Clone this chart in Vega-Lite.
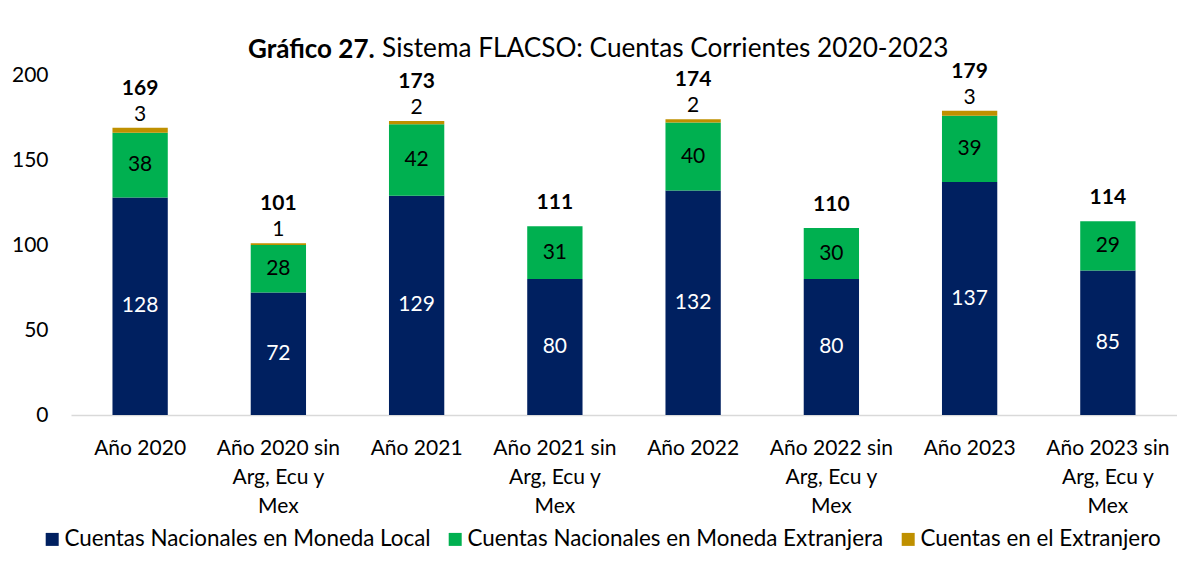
{
  "$schema": "https://vega.github.io/schema/vega-lite/v6.json",
  "width": 1106,
  "height": 340,
  "autosize": {"type": "none"},
  "padding": {"left": 71, "top": 75, "right": 0, "bottom": 157},
  "background": "white",
  "title": {
    "text": "Gráfico 27.",
    "subtitle": "\u200b\u00a0\u00a0\u00a0\u00a0\u00a0\u00a0\u00a0\u00a0\u00a0\u00a0\u00a0\u00a0\u00a0\u00a0\u00a0\u00a0\u00a0\u00a0\u00a0\u00a0Sistema FLACSO: Cuentas Corrientes 2020-2023",
    "anchor": "start",
    "frame": "group",
    "dx": 177,
    "offset": -2,
    "font": "Lato",
    "fontSize": 26,
    "fontWeight": "bold",
    "color": "black",
    "subtitleFont": "Lato",
    "subtitleFontSize": 26.2,
    "subtitleFontWeight": "normal",
    "subtitleColor": "black",
    "subtitlePadding": -26.2
  },
  "data": {
    "values": [
      {"cat": "Año 2020", "serie": "Cuentas Nacionales en Moneda Local", "value": 128},
      {"cat": "Año 2020", "serie": "Cuentas Nacionales en Moneda Extranjera", "value": 38},
      {"cat": "Año 2020", "serie": "Cuentas en el Extranjero", "value": 3},
      {"cat": "Año 2020 sin Arg, Ecu y Mex", "serie": "Cuentas Nacionales en Moneda Local", "value": 72},
      {"cat": "Año 2020 sin Arg, Ecu y Mex", "serie": "Cuentas Nacionales en Moneda Extranjera", "value": 28},
      {"cat": "Año 2020 sin Arg, Ecu y Mex", "serie": "Cuentas en el Extranjero", "value": 1},
      {"cat": "Año 2021", "serie": "Cuentas Nacionales en Moneda Local", "value": 129},
      {"cat": "Año 2021", "serie": "Cuentas Nacionales en Moneda Extranjera", "value": 42},
      {"cat": "Año 2021", "serie": "Cuentas en el Extranjero", "value": 2},
      {"cat": "Año 2021 sin Arg, Ecu y Mex", "serie": "Cuentas Nacionales en Moneda Local", "value": 80},
      {"cat": "Año 2021 sin Arg, Ecu y Mex", "serie": "Cuentas Nacionales en Moneda Extranjera", "value": 31},
      {"cat": "Año 2022", "serie": "Cuentas Nacionales en Moneda Local", "value": 132},
      {"cat": "Año 2022", "serie": "Cuentas Nacionales en Moneda Extranjera", "value": 40},
      {"cat": "Año 2022", "serie": "Cuentas en el Extranjero", "value": 2},
      {"cat": "Año 2022 sin Arg, Ecu y Mex", "serie": "Cuentas Nacionales en Moneda Local", "value": 80},
      {"cat": "Año 2022 sin Arg, Ecu y Mex", "serie": "Cuentas Nacionales en Moneda Extranjera", "value": 30},
      {"cat": "Año 2023", "serie": "Cuentas Nacionales en Moneda Local", "value": 137},
      {"cat": "Año 2023", "serie": "Cuentas Nacionales en Moneda Extranjera", "value": 39},
      {"cat": "Año 2023", "serie": "Cuentas en el Extranjero", "value": 3},
      {"cat": "Año 2023 sin Arg, Ecu y Mex", "serie": "Cuentas Nacionales en Moneda Local", "value": 85},
      {"cat": "Año 2023 sin Arg, Ecu y Mex", "serie": "Cuentas Nacionales en Moneda Extranjera", "value": 29}
    ]
  },
  "encoding": {
    "x": {
      "field": "cat",
      "type": "nominal",
      "sort": ["Año 2020", "Año 2020 sin Arg, Ecu y Mex", "Año 2021", "Año 2021 sin Arg, Ecu y Mex", "Año 2022", "Año 2022 sin Arg, Ecu y Mex", "Año 2023", "Año 2023 sin Arg, Ecu y Mex"],
      "scale": {"paddingInner": 0.6, "paddingOuter": 0.3},
      "axis": {
        "title": null,
        "labelAngle": 0,
        "labelFont": "Lato",
        "labelFontSize": 21,
        "labelColor": "black",
        "labelPadding": 22,
        "labelLineHeight": 29,
        "labelLimit": 300,
        "ticks": false,
        "domainColor": "#d9d9d9",
        "domainWidth": 1.5,
        "labelExpr": "indexof(datum.label, ' sin ') > 0 ? [substring(datum.label, 0, indexof(datum.label, ' Arg')), 'Arg, Ecu y', 'Mex'] : datum.label"
      }
    }
  },
  "layer": [
    {
      "mark": {"type": "bar"},
      "encoding": {
        "y": {
          "field": "value",
          "type": "quantitative",
          "stack": "zero",
          "scale": {"domain": [0, 200]},
          "axis": {
            "title": null,
            "domain": false,
            "ticks": false,
            "grid": false,
            "values": [0, 50, 100, 150, 200],
            "labelFont": "Lato",
            "labelFontSize": 21,
            "labelColor": "black",
            "labelPadding": 23
          }
        },
        "order": {"field": "value", "type": "quantitative", "sort": "descending"},
        "color": {
          "field": "serie",
          "type": "nominal",
          "sort": ["Cuentas Nacionales en Moneda Local", "Cuentas Nacionales en Moneda Extranjera", "Cuentas en el Extranjero"],
          "scale": {
            "domain": ["Cuentas Nacionales en Moneda Local", "Cuentas Nacionales en Moneda Extranjera", "Cuentas en el Extranjero"],
            "range": ["#002060", "#00B050", "#BF9000"]
          },
          "legend": {
            "title": null,
            "orient": "none",
            "legendX": -30,
            "legendY": 453,
            "direction": "horizontal",
            "columns": 3,
            "symbolType": "square",
            "symbolSize": 169,
            "symbolStrokeWidth": 0,
            "labelFont": "Lato",
            "labelFontSize": 22.4,
            "labelColor": "black",
            "labelLimit": 500,
            "labelOffset": 1,
            "columnPadding": 13
          }
        }
      }
    },
    {
      "transform": [
        {"filter": "datum.serie != 'Cuentas en el Extranjero'"},
        {"stack": "value", "groupby": ["cat"], "sort": [{"field": "value", "order": "descending"}], "as": ["y0", "y1"]},
        {"fold": ["y0", "y1"], "as": ["k", "pos"]},
        {"aggregate": [{"op": "mean", "field": "pos", "as": "mid"}], "groupby": ["cat", "serie", "value"]}
      ],
      "mark": {"type": "text", "font": "Lato", "fontSize": 21, "baseline": "middle"},
      "encoding": {
        "y": {"field": "mid", "type": "quantitative", "axis": {"title": null, "domain": false, "ticks": false, "grid": false, "values": [0, 50, 100, 150, 200], "labelFont": "Lato", "labelFontSize": 21, "labelColor": "black", "labelPadding": 23}},
        "text": {"field": "value", "type": "quantitative"},
        "color": {
          "condition": {"test": "datum.serie == 'Cuentas Nacionales en Moneda Local'", "value": "white"},
          "value": "black"
        }
      }
    },
    {
      "transform": [
        {"joinaggregate": [{"op": "sum", "field": "value", "as": "total"}], "groupby": ["cat"]},
        {"filter": "datum.serie == 'Cuentas en el Extranjero'"}
      ],
      "mark": {"type": "text", "font": "Lato", "fontSize": 21, "baseline": "middle", "dy": -13, "color": "black"},
      "encoding": {
        "y": {"field": "total", "type": "quantitative", "axis": {"title": null, "domain": false, "ticks": false, "grid": false, "values": [0, 50, 100, 150, 200], "labelFont": "Lato", "labelFontSize": 21, "labelColor": "black", "labelPadding": 23}},
        "text": {"field": "value", "type": "quantitative"}
      }
    },
    {
      "transform": [
        {"aggregate": [{"op": "sum", "field": "value", "as": "total"}, {"op": "count", "as": "n"}], "groupby": ["cat"]},
        {"filter": "datum.n == 3"}
      ],
      "mark": {"type": "text", "font": "Lato", "fontSize": 21, "fontWeight": "bold", "baseline": "middle", "dy": -39, "color": "black"},
      "encoding": {
        "y": {"field": "total", "type": "quantitative", "axis": {"title": null, "domain": false, "ticks": false, "grid": false, "values": [0, 50, 100, 150, 200], "labelFont": "Lato", "labelFontSize": 21, "labelColor": "black", "labelPadding": 23}},
        "text": {"field": "total", "type": "quantitative"}
      }
    },
    {
      "transform": [
        {"aggregate": [{"op": "sum", "field": "value", "as": "total"}, {"op": "count", "as": "n"}], "groupby": ["cat"]},
        {"filter": "datum.n == 2"}
      ],
      "mark": {"type": "text", "font": "Lato", "fontSize": 21, "fontWeight": "bold", "baseline": "middle", "dy": -23, "color": "black"},
      "encoding": {
        "y": {"field": "total", "type": "quantitative", "axis": {"title": null, "domain": false, "ticks": false, "grid": false, "values": [0, 50, 100, 150, 200], "labelFont": "Lato", "labelFontSize": 21, "labelColor": "black", "labelPadding": 23}},
        "text": {"field": "total", "type": "quantitative"}
      }
    }
  ],
  "config": {"view": {"stroke": null}}
}
